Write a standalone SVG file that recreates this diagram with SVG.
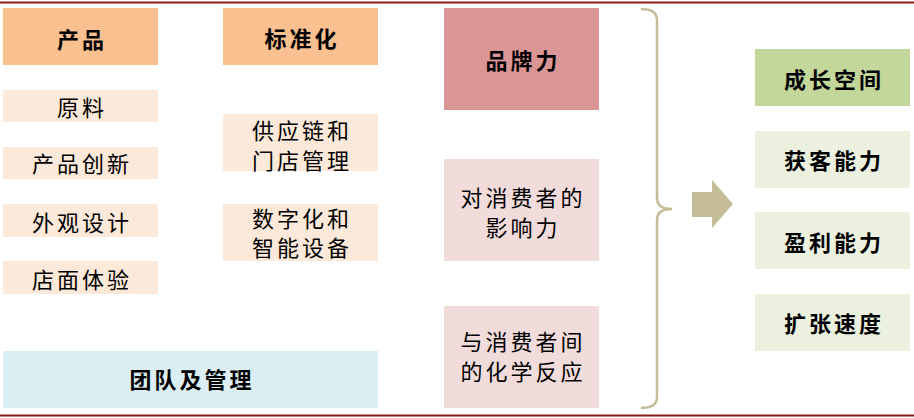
<svg xmlns="http://www.w3.org/2000/svg" width="914" height="418" viewBox="0 0 914 418">
<style>
text{font-family:"Noto Sans CJK SC","Noto Sans",sans-serif;font-size:22px;letter-spacing:3px;text-anchor:middle;fill:#000}
.b{font-weight:bold}
.hd{fill:#FAC090}
.lo{fill:#FDE9D9}
.bl{fill:#DAEEF3}
.rd{fill:#DA9694}
.pk{fill:#F2DCDB}
.gn{fill:#C4D79B}
.lg{fill:#EBF1DE}
</style>
<rect width="914" height="418" fill="#fff"/>
<line x1="0" y1="2.5" x2="914" y2="2.5" stroke="#8B1A1A" stroke-width="2"/>
<line x1="0" y1="415.5" x2="914" y2="415.5" stroke="#8B1A1A" stroke-width="2"/>
<g id="n-product"><rect class="hd" x="3" y="8" width="155" height="57"/><text class="b" x="82" y="48">产品</text></g>
<g id="n-standard"><rect class="hd" x="223" y="8" width="155" height="57"/><text class="b" x="302" y="47">标准化</text></g>
<g id="n-material"><rect class="lo" x="3" y="90" width="155" height="32"/><text x="82" y="116">原料</text></g>
<g id="n-innovation"><rect class="lo" x="3" y="147" width="155" height="32"/><text x="82" y="172">产品创新</text></g>
<g id="n-design"><rect class="lo" x="3" y="204" width="155" height="33"/><text x="82" y="231">外观设计</text></g>
<g id="n-store"><rect class="lo" x="3" y="261" width="155" height="33"/><text x="82" y="288">店面体验</text></g>
<g id="n-supply"><rect class="lo" x="223" y="114" width="155" height="57"/><text x="302" y="139">供应链和</text><text x="302" y="169">门店管理</text></g>
<g id="n-digital"><rect class="lo" x="223" y="204" width="155" height="57"/><text x="302" y="227">数字化和</text><text x="302" y="256">智能设备</text></g>
<g id="n-team"><rect class="bl" x="3" y="351" width="375" height="57"/><text class="b" x="192" y="388">团队及管理</text></g>
<g id="n-brand"><rect class="rd" x="444" y="8" width="155" height="102"/><text class="b" x="523" y="69">品牌力</text></g>
<g id="n-influence"><rect class="pk" x="444" y="159" width="155" height="102"/><text x="523" y="206">对消费者的</text><text x="523" y="236">影响力</text></g>
<g id="n-chemistry"><rect class="pk" x="444" y="306" width="155" height="102"/><text x="523" y="350">与消费者间</text><text x="523" y="380">的化学反应</text></g>
<g id="n-growth"><rect class="gn" x="755" y="49" width="155" height="57"/><text class="b" x="834" y="88">成长空间</text></g>
<g id="n-acquire"><rect class="lg" x="755" y="131" width="155" height="57"/><text class="b" x="834" y="169">获客能力</text></g>
<g id="n-profit"><rect class="lg" x="755" y="212" width="155" height="57"/><text class="b" x="834" y="251">盈利能力</text></g>
<g id="n-expand"><rect class="lg" x="755" y="294" width="155" height="57"/><text class="b" x="834" y="332">扩张速度</text></g>
<g id="connectors">
<path d="M641,9 Q657,9 657,20 L657,198 Q657,209 672,209 Q657,209 657,220 L657,397 Q657,408 641,408" fill="none" stroke="#C4BD97" stroke-width="2.5"/>
<polygon points="692,192 712,192 712,180 733,204 712,228 712,217 692,217" fill="#C4BD97"/>
</g>
</svg>
